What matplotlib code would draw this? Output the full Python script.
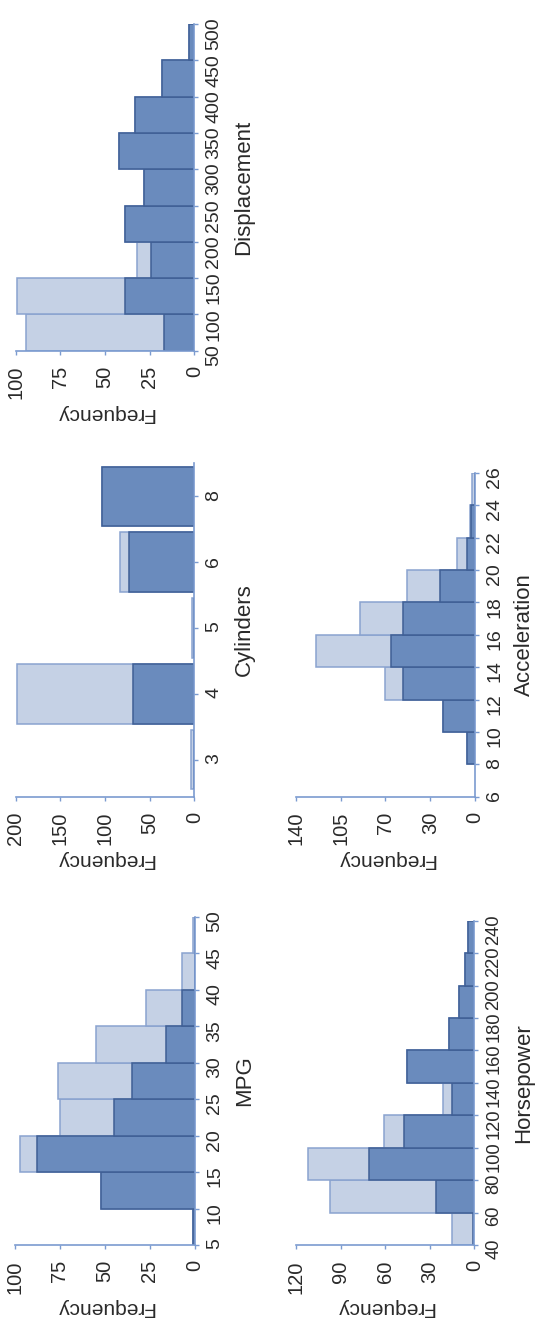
import matplotlib
matplotlib.use('Agg')
import matplotlib.pyplot as plt

# data (light = all cars, dark = subset)
mpg_edges = [5, 10, 15, 20, 25, 30, 35, 40, 45]
mpg_all = [1, 52, 97, 75, 76, 55, 27, 7, 1]
mpg_sub = [1, 52, 88, 45, 35, 16, 7, 0, 0]

cyl_labels = ['3', '4', '5', '6', '8']
cyl_all = [4, 198, 3, 83, 103]
cyl_sub = [0, 69, 0, 73, 103]

disp_edges = [50, 100, 150, 200, 250, 300, 350, 400, 450]
disp_all = [94, 99, 32, 39, 28, 42, 33, 18, 3]
disp_sub = [17, 39, 24, 39, 28, 42, 33, 18, 3]

hp_edges = [40, 60, 80, 100, 120, 140, 160, 180, 200, 220]
hp_all = [15, 97, 112, 61, 21, 45, 17, 10, 6, 4]
hp_sub = [1, 26, 71, 47, 15, 45, 17, 10, 6, 4]

acc_edges = [8, 10, 12, 14, 16, 18, 20, 22, 24]
acc_all = [6, 25, 70, 124, 90, 53, 14, 4, 2]
acc_sub = [6, 25, 56, 66, 56, 27, 6, 3, 0]

LIGHT, LIGHT_EDGE = '#c5d1e5', '#8aa3cf'
DARK, DARK_EDGE = '#6a8bbd', '#3f5f95'
AXC = '#7b9bd0'
TXT = '#2a2a2a'

plt.rcParams['font.family'] = ['Liberation Sans', 'DejaVu Sans']

fig = plt.figure(figsize=(5.37, 13.23), dpi=100)


def setup(ax, fticks, flabels, fmax, lo, hi, name, binsize=14):
    ax.set_xlim(fmax, 0)
    ax.set_ylim(lo, hi)
    for s in ['top', 'left']:
        ax.spines[s].set_visible(False)
    for s in ['bottom', 'right']:
        ax.spines[s].set_color(AXC)
        ax.spines[s].set_linewidth(1.2)
    ax.yaxis.tick_right()
    ax.yaxis.set_label_position('right')
    ax.set_xticks(fticks)
    ax.set_xticklabels(flabels)
    ax.tick_params(axis='x', colors=AXC, labelcolor=TXT, length=3, width=1,
                   labelrotation=90, labelsize=14.5, pad=8)
    ax.tick_params(axis='y', colors=AXC, labelcolor=TXT, length=3, width=1,
                   labelrotation=90, labelsize=binsize, pad=5)
    ax.set_xlabel('Frequency', rotation=180, fontsize=15, color=TXT, labelpad=3)
    ax.set_ylabel(name, rotation=90, fontsize=16, color=TXT, labelpad=8)


def hist(ax, edges, allc, subc, w):
    ax.barh(edges, allc, height=w, align='edge', color=LIGHT,
            edgecolor=LIGHT_EDGE, linewidth=1.1)
    ax.barh(edges, subc, height=w, align='edge', color=DARK,
            edgecolor=DARK_EDGE, linewidth=1.1)


# MPG
ax = fig.add_axes([0.0279, 0.0590, 0.3352, 0.2479])
hist(ax, mpg_edges, mpg_all, mpg_sub, 5)
setup(ax, [0, 25, 50, 75, 100], ['0', '25', '50', '75', '100'], 100, 5, 50, 'MPG')
ax.set_yticks(range(5, 51, 5))

# Horsepower
ax = fig.add_axes([0.5512, 0.0590, 0.3320, 0.2451])
hist(ax, hp_edges, hp_all, hp_sub, 20)
setup(ax, [0, 30, 60, 90, 120], ['0', '30', '60', '90', '120'], 120, 40, 240,
      'Horsepower', binsize=13.2)
ax.set_yticks(range(40, 241, 20))

# Cylinders
ax = fig.add_axes([0.0292, 0.3978, 0.3326, 0.2520])
pos = list(range(len(cyl_labels)))
ax.barh(pos, cyl_all, height=0.9, color=LIGHT, edgecolor=LIGHT_EDGE, linewidth=1.1)
ax.barh(pos, cyl_sub, height=0.9, color=DARK, edgecolor=DARK_EDGE, linewidth=1.1)
setup(ax, [0, 50, 100, 150, 200], ['0', '50', '100', '150', '200'], 200, -0.56, 4.5, 'Cylinders')
ax.set_yticks(pos)
ax.set_yticklabels(cyl_labels)

# Acceleration
ax = fig.add_axes([0.5512, 0.3978, 0.3333, 0.2449])
hist(ax, acc_edges, acc_all, acc_sub, 2)
setup(ax, [0, 35, 70, 105, 140], ['0', '30', '70', '105', '140'], 140, 6, 26, 'Acceleration')
ax.set_yticks(range(6, 27, 2))

# Displacement
ax = fig.add_axes([0.0292, 0.7349, 0.3326, 0.2469])
hist(ax, disp_edges, disp_all, disp_sub, 50)
setup(ax, [0, 25, 50, 75, 100], ['0', '25', '50', '75', '100'], 100, 50, 500, 'Displacement')
ax.set_yticks(range(50, 501, 50))

fig.savefig('out.png', dpi=100)
